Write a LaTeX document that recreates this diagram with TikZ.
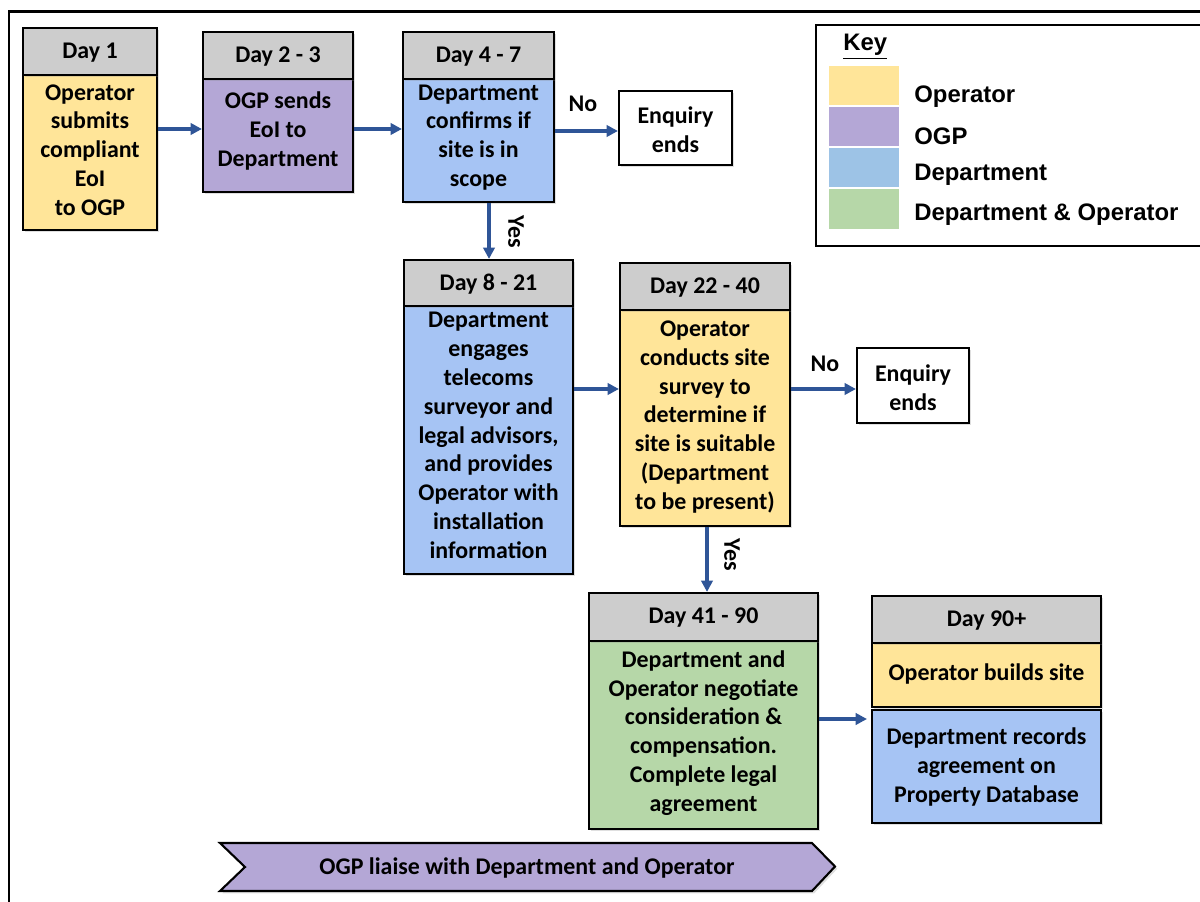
\documentclass[tikz,border=0pt]{standalone}
\usepackage{fontspec}
\setmainfont{Carlito}
\newfontfamily\keyfont{Liberation Sans}
\usetikzlibrary{arrows.meta,fit,shadows}
\definecolor{hdrgray}{RGB}{205,205,205}
\definecolor{opyellow}{RGB}{255,229,153}
\definecolor{ogppurple}{RGB}{180,167,214}
\definecolor{deptblue}{RGB}{166,196,244}
\definecolor{keyblue}{RGB}{157,195,230}
\definecolor{dogreen}{RGB}{182,215,168}
\definecolor{arrowblue}{RGB}{47,85,151}
\tikzset{
  txt/.style={font=\bfseries\fontsize{13.6}{16.4}\selectfont},
  base/.style={draw=black, line width=1.2pt, inner sep=0pt,
     drop shadow={shadow xshift=1.3pt, shadow yshift=-1.3pt, opacity=0.25}},
  hdr/.style={base, fill=hdrgray},
  opbox/.style={base, fill=opyellow},
  ogpbox/.style={base, fill=ogppurple},
  deptbox/.style={base, fill=deptblue},
  dobox/.style={base, fill=dogreen},
  endbox/.style={base, fill=white},
  lbl/.style={txt, inner sep=0pt, align=center},
  keytxt/.style={font=\keyfont\bfseries\fontsize{13.6}{16.4}\selectfont, inner sep=0pt},
  swatch/.style={inner sep=0pt},
  arr/.style={draw=arrowblue, line width=2pt, -{Triangle[length=6.5pt,width=6.5pt]}}
}
\begin{document}
\begin{tikzpicture}[x=0.02cm,y=-0.02cm]
\useasboundingbox (0,0) rectangle (1200,902);
% outer frame
\draw[line width=1.4pt] (9,910) -- (9,11.5) -- (1210,11.5);

% Box 1
\node[opbox, fit={(23,75) (157,230)}] (b1) {};
\node[hdr, fit={(23,28) (157,75)}] (h1) {};
\node[lbl] (th1) at ([yshift=-0.02cm]h1.center) {Day 1};
\node[lbl] (tb1) at (90,150) {Operator\\submits\\compliant\\EoI\\to OGP};
% Box 2
\node[ogpbox, fit={(203,79) (353,192)}] (b2) {};
\node[hdr, fit={(203,32) (353,79)}] (h2) {};
\node[lbl] (th2) at ([yshift=-0.02cm]h2.center) {Day 2 - 3};
\node[lbl] (tb2) at (278,131) {OGP sends\\EoI to\\Department};
% Box 3
\node[deptbox, fit={(403,79) (554,202)}] (b3) {};
\node[hdr, fit={(403,32) (554,79)}] (h3) {};
\node[lbl] (th3) at ([yshift=-0.02cm]h3.center) {Day 4 - 7};
\node[lbl] (tb3) at (478.5,137.5) {Department\\confirms if\\site is in\\scope};
% Enquiry ends 1
\node[endbox, fit={(619,91) (732,165)}] (e1) {};
\node[lbl] (te1) at (675.5,129.5) {Enquiry\\ends};
% Box 4
\node[deptbox, fit={(404,306) (573,574)}] (b4) {};
\node[hdr, fit={(404,260) (573,306)}] (h4) {};
\node[lbl] (th4) at ([yshift=-0.02cm]h4.center) {Day 8 - 21};
\node[lbl] (tb4) at (488.5,435.5) {Department\\engages\\telecoms\\surveyor and\\legal advisors,\\and provides\\Operator with\\installation\\information};
% Box 5
\node[opbox, fit={(620,310) (790,526)}] (b5) {};
\node[hdr, fit={(620,263) (790,310)}] (h5) {};
\node[lbl] (th5) at ([yshift=-0.02cm]h5.center) {Day 22 - 40};
\node[lbl] (tb5) at (705,417) {Operator\\conducts site\\survey to\\determine if\\site is suitable\\(Department\\to be present)};
% Enquiry ends 2
\node[endbox, fit={(857,348) (969,423)}] (e2) {};
\node[lbl] (te2) at (913,387.5) {Enquiry\\ends};
% Box 6
\node[dobox, fit={(589,641) (818,829)}] (b6) {};
\node[hdr, fit={(589,593) (818,641)}] (h6) {};
\node[lbl] (th6) at ([yshift=-0.02cm]h6.center) {Day 41 - 90};
\node[lbl] (tb6) at (703.5,733) {Department and\\Operator negotiate\\consideration \&\\compensation.\\Complete legal\\agreement};
% Box 7
\node[deptbox, fit={(872,710) (1101,823)}] (b7b) {};
\node[opbox, fit={(872,643) (1101,707)}] (b7a) {};
\node[hdr, fit={(872,596) (1101,643)}] (h7) {};
\node[lbl] (th7) at ([yshift=-0.02cm]h7.center) {Day 90+};
\node[lbl] (tb7a) at (986.5,674) {Operator builds site};
\node[lbl] (tb7b) at (986.5,767) {Department records\\agreement on\\Property Database};

% connectors
\draw[arr] (b1.east |- 0,129) -- (b2.west |- 0,129);
\draw[arr] (b2.east |- 0,129) -- (b3.west |- 0,129);
\draw[arr] (b3.east |- 0,131) -- (e1.west |- 0,131);
\draw[arr] (b3.south -| 489,0) -- (h4.north -| 489,0);
\draw[arr] (b4.east |- 0,389) -- (b5.west |- 0,389);
\draw[arr] (b5.east |- 0,389) -- (e2.west |- 0,389);
\draw[arr] (b5.south -| 707,0) -- (h6.north -| 707,0);
\coordinate (a7) at (867,719);
\draw[arr] (b6.east |- a7) -- (a7);

% labels
\node[lbl] (no1) at (583,104) {No};
\node[lbl] (no2) at (825,364) {No};
\node[lbl, rotate=-90] (yes1) at (516,232) {Yes};
\node[lbl, rotate=-90] (yes2) at (732,555) {Yes};

% chevron
\draw[line width=1.2pt, fill=ogppurple, drop shadow={shadow xshift=1.3pt, shadow yshift=-1.3pt, opacity=0.25}]
  (220,843) -- (812,843) -- (835,866.5) -- (812,891) -- (220,891) -- (245,867) -- cycle;
\node[lbl] (chev) at (527,868) {OGP liaise with Department and Operator};

% key
\draw[line width=1.2pt, fill=white] (816,25) rectangle (1210,246);
\node[keytxt, anchor=west] (keyt) at (843,47) {\underline{Key}};
\node[swatch, fill=opyellow, fit={(829,66) (899,105)}] (s1) {};
\node[swatch, fill=ogppurple, fit={(829,107) (899,146)}] (s2) {};
\node[swatch, fill=keyblue, fit={(829,148) (899,187)}] (s3) {};
\node[swatch, fill=dogreen, fit={(829,189) (899,229)}] (s4) {};
\node[keytxt, anchor=west] (k1) at (914,97) {Operator};
\node[keytxt, anchor=west] (k2) at (914,136) {OGP};
\node[keytxt, anchor=west] (k3) at (914,175) {Department};
\node[keytxt, anchor=west] (k4) at (914,215) {Department \& Operator};
\end{tikzpicture}
\end{document}
